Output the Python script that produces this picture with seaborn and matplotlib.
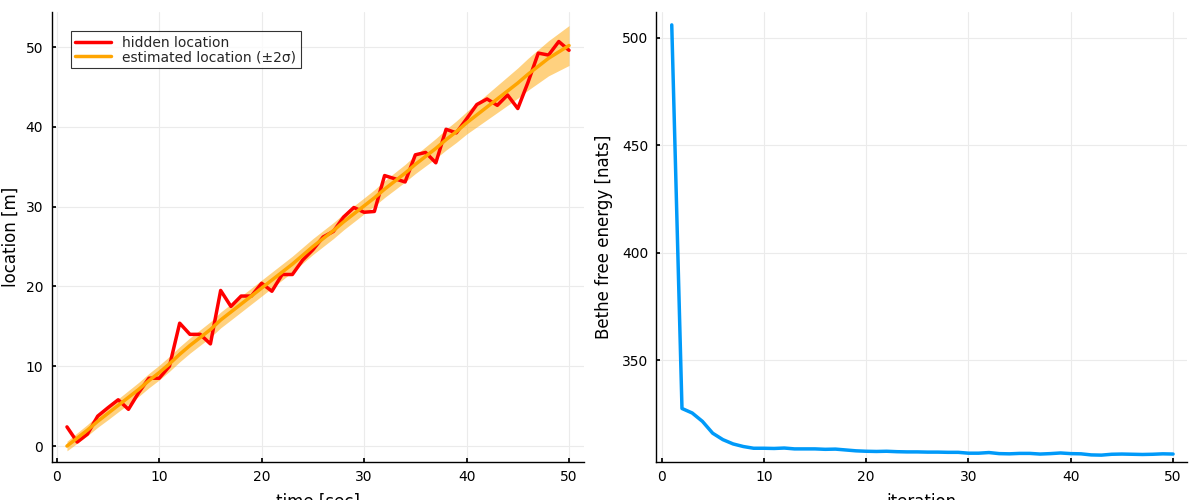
import numpy as np
import pandas as pd
import matplotlib
matplotlib.use('Agg')
import matplotlib.pyplot as plt
import seaborn as sns

# data
t = list(range(1, 51))
hidden = [2.4, 0.5, 1.5, 3.75, 4.8, 5.8, 4.6, 6.7, 8.5, 8.5,
          10.0, 15.4, 14.0, 14.0, 12.8, 19.5, 17.5, 18.8, 18.8, 20.4,
          19.4, 21.5, 21.5, 23.3, 24.6, 26.2, 26.9, 28.7, 29.9, 29.3,
          29.4, 33.9, 33.5, 33.1, 36.5, 36.8, 35.5, 39.7, 39.25, 41.0,
          42.8, 43.5, 42.7, 44.0, 42.3, 45.6, 49.25, 49.0, 50.7, 49.6]
estimated = [0.0, 1.0, 2.0, 3.1, 4.1, 5.1, 6.1, 7.1, 8.2, 9.2,
             10.3, 11.5, 12.6, 13.6, 14.6, 15.8, 16.8, 17.8, 18.8, 19.8,
             20.8, 21.8, 22.8, 23.9, 25.0, 26.0, 27.0, 28.1, 29.1, 30.1,
             31.1, 32.2, 33.2, 34.2, 35.3, 36.3, 37.3, 38.4, 39.4, 40.5,
             41.5, 42.5, 43.5, 44.5, 45.5, 46.6, 47.6, 48.6, 49.4, 50.2]
two_sigma = [0.6, 0.65, 0.7, 0.75, 0.8, 0.82, 0.85, 0.88, 0.9, 0.92,
             0.94, 0.95, 0.96, 0.97, 0.98, 0.99, 1.0, 1.0, 1.0, 1.0,
             1.0, 1.0, 1.0, 1.0, 1.0, 1.0, 1.0, 1.0, 1.0, 1.0,
             1.02, 1.05, 1.08, 1.1, 1.15, 1.2, 1.25, 1.3, 1.35, 1.4,
             1.5, 1.6, 1.7, 1.8, 1.9, 2.0, 2.1, 2.2, 2.35, 2.5]

iteration = list(range(1, 51))
free_energy = [506.0, 327.5, 325.4, 321.5, 316.0, 313.0, 311.0, 309.8, 309.0, 309.0,
               308.9, 309.1, 308.7, 308.7, 308.7, 308.5, 308.6, 308.2, 307.8, 307.6,
               307.5, 307.6, 307.4, 307.3, 307.3, 307.2, 307.2, 307.1, 307.1, 306.7,
               306.7, 307.0, 306.5, 306.4, 306.6, 306.6, 306.3, 306.5, 306.8, 306.5,
               306.4, 305.9, 305.8, 306.2, 306.3, 306.2, 306.1, 306.2, 306.4, 306.3]

sns.set_theme(style='whitegrid')
plt.rcParams['font.family'] = ['DejaVu Sans']

df = pd.DataFrame({'t': t, 'hidden': hidden, 'est': estimated, 's': two_sigma})
df2 = pd.DataFrame({'iteration': iteration, 'fe': free_energy})

fig = plt.figure(figsize=(12, 5), dpi=100)
ax1 = fig.add_axes([0.043, 0.076, 0.444, 0.9])
ax2 = fig.add_axes([0.547, 0.076, 0.4425, 0.9])

for ax in (ax1, ax2):
    ax.set_facecolor('white')
    ax.grid(True, color='#ebebeb', linewidth=0.8)
    for s in ['top', 'right']:
        ax.spines[s].set_visible(False)
    for s in ['left', 'bottom']:
        ax.spines[s].set_color('black')
        ax.spines[s].set_linewidth(1)
    ax.tick_params(axis='both', labelsize=10, length=3, direction='in',
                   color='black', labelcolor='black', left=True, bottom=True, pad=6)

orange = '#ffa500'
ax1.fill_between(df['t'], df['est'] - df['s'], df['est'] + df['s'],
                 color=orange, alpha=0.5, linewidth=0)
sns.lineplot(data=df, x='t', y='hidden', ax=ax1, color='red', linewidth=2.5,
             label='hidden location')
sns.lineplot(data=df, x='t', y='est', ax=ax1, color=orange, linewidth=2.5,
             label='estimated location (±2σ)')
ax1.set_xlim(-0.5, 51.5)
ax1.set_ylim(-2, 54.4)
ax1.set_xticks([0, 10, 20, 30, 40, 50])
ax1.set_yticks([0, 10, 20, 30, 40, 50])
ax1.set_xlabel('time [sec]', fontsize=12, labelpad=6, color='black')
ax1.set_ylabel('location [m]', fontsize=12, labelpad=4, color='black')
leg = ax1.legend(loc='upper left', fontsize=10, frameon=True, fancybox=False,
                 borderaxespad=1.4, handlelength=2.6, borderpad=0.3, labelspacing=0.05)
leg.get_frame().set_edgecolor('black')
leg.get_frame().set_linewidth(0.8)

sns.lineplot(data=df2, x='iteration', y='fe', ax=ax2, color='#009af9', linewidth=2.5)
ax2.set_xlim(-0.5, 51.4)
ax2.set_ylim(302.6, 512)
ax2.set_xticks([0, 10, 20, 30, 40, 50])
ax2.set_yticks([350, 400, 450, 500])
ax2.set_xlabel('iteration', fontsize=12, labelpad=6, color='black')
ax2.set_ylabel('Bethe free energy [nats]', fontsize=12, labelpad=6, color='black')

fig.savefig('out.png', dpi=100)
